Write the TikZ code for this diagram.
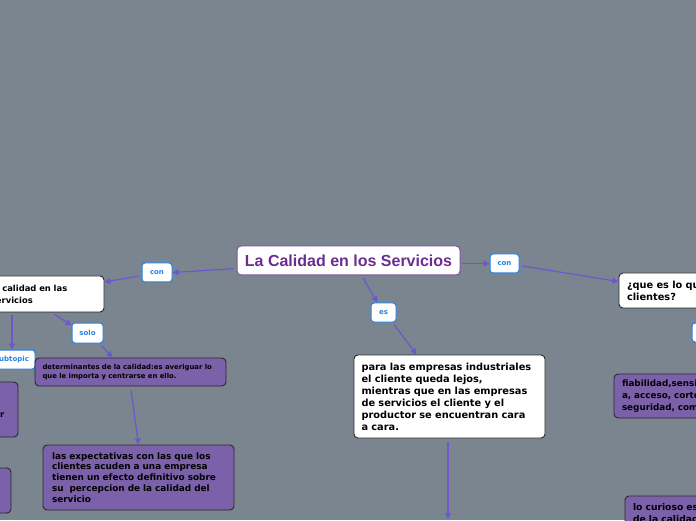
\documentclass[tikz,border=0pt]{standalone}
\usepackage{fontspec}
\setmainfont{DejaVu Sans}
\newfontfamily\ttlfont{Liberation Sans}
\usetikzlibrary{arrows.meta,calc}
\definecolor{bg}{RGB}{122,133,143}
\definecolor{linec}{RGB}{108,88,204}
\definecolor{purp}{RGB}{123,97,170}
\definecolor{dk}{RGB}{40,40,40}
\definecolor{lblue}{RGB}{40,130,230}
\definecolor{ttl}{RGB}{107,45,145}
\definecolor{ttlb}{RGB}{128,80,165}
\newcommand\fsz[2]{\bfseries\fontsize{#1}{#2}\selectfont}
\tikzset{
  conn/.style={draw=linec, line width=1.2pt, -{Triangle[length=6pt,width=6pt]}, shorten <=3pt},
  tbox/.style={draw=ttlb, fill=white, rounded corners=4pt, line width=1pt, text=ttl, inner sep=0pt,
    font=\ttlfont\bfseries\fontsize{16}{18}\selectfont},
  wbox/.style={draw=dk, fill=white, rounded corners=4pt, line width=0.9pt, inner sep=0pt, align=left, text=black},
  pbox/.style={draw=dk, fill=purp, rounded corners=4pt, line width=0.9pt, inner sep=0pt, align=left, text=black},
  lbl/.style={draw=lblue, fill=white, rounded corners=3pt, line width=1pt, text=lblue, inner sep=0pt,
    font=\fsz{7}{8}},
}
\begin{document}
\begin{tikzpicture}[x=1pt,y=1pt]
\clip (0,0) rectangle (696,520);
\fill[bg] (0,0) rectangle (696,520);

% central
\node[tbox, minimum width=223pt, minimum height=29pt] (central) at (348.5,259.5) {La Calidad en los Servicios};

% left branch
\node[lbl, minimum width=30pt, minimum height=19pt] (lcon) at (157,247.5) {con};
\node[wbox, minimum width=120pt, minimum height=36pt, text width=106pt, font=\fsz{8.4}{12}] (leftbox) at (44,226) {la calidad en las\\servicios};
\node[lbl, minimum width=46pt, minimum height=19pt] (sub) at (12,160.5) {subtopic};
\node[lbl, minimum width=31pt, minimum height=20pt] (solo) at (87.5,187) {solo};
\node[pbox, minimum width=191pt, minimum height=28pt, text width=176pt, font=\fsz{6.9}{9}] (determ) at (130.5,148) {determinantes de la calidad:es averiguar lo\\que le importa y centrarse en ello.};
\node[pbox, minimum width=191pt, minimum height=65pt, text width=173pt, font=\fsz{8.9}{10.9}] (expect) at (138.5,42.5) {las expectativas con las que los\\clientes acuden a una empresa\\tienen un efecto definitivo sobre\\su\ \ percepcion de la calidad del\\servicio};
\node[pbox, minimum width=48pt, minimum height=55pt] (lp1) at (-6,110.5) {};
\node[font=\fsz{8.6}{12}, anchor=west, inner sep=0pt] (lp1r) at (0,105) {r};
\node[pbox, minimum width=41pt, minimum height=45pt] (lp2) at (-9.5,29.5) {};

% middle branch
\node[lbl, minimum width=25pt, minimum height=19pt] (es) at (383.5,207.5) {es};
\node[wbox, minimum width=191pt, minimum height=83pt, text width=176pt, font=\fsz{9.8}{12}] (ind) at (449.5,123.5) {para las empresas industriales\\el cliente queda lejos,\\mientras que en las empresas\\de servicios el cliente y el\\productor se encuentran cara\\a cara.};
\coordinate (indbot) at (448,1);

% right branch
\node[lbl, minimum width=29pt, minimum height=19pt] (rcon) at (504.5,256.5) {con};
\node[wbox, minimum width=181pt, minimum height=35pt, text width=165pt, font=\fsz{9.8}{12}] (qbox) at (709.5,229.5) {¿que es lo que esperan los\\clientes?};
\node[lbl, minimum width=48pt, minimum height=19pt] (rsub) at (716,187.5) {};
\node[pbox, minimum width=186pt, minimum height=44pt, text width=170pt, font=\fsz{8.8}{12}] (fiab) at (707,124) {fiabilidad,sensibilidad,competenci\\a, acceso, cortesia,\\seguridad, comunicacion};
\node[pbox, minimum width=175pt, minimum height=34pt, text width=159pt, font=\fsz{9.2}{12}] (cur) at (712.5,7) {lo curioso es que\\de la calidad};

% connectors
\draw[conn] ([yshift=-8pt]central.west) -- (lcon.east);
\draw[conn] ([yshift=-3pt]lcon.west) -- ([yshift=12pt]leftbox.east);
\draw[conn] (sub.north |- leftbox.south) -- (sub.north);
\draw[conn] ([xshift=8pt]leftbox.south) -- ([yshift=-3pt]solo.north west);
\draw[conn] ([xshift=-4pt]solo.south east) -- ($(determ.north west)+(78,0)$);
\draw[conn, shorten <=4pt] (determ.south) -- (expect.north);
\draw[conn] ([xshift=13pt]central.south) -- ([xshift=-6pt]es.north);
\draw[conn] ([xshift=-4pt]es.south east) -- ([xshift=-33pt]ind.north);
\draw[conn, shorten <=4pt] (ind.south -| indbot) -- (indbot);
\draw[conn, shorten <=1pt] (central.east |- rcon.west) -- (rcon.west);
\draw[conn] ([yshift=-2pt]rcon.east) -- ([yshift=-9pt]qbox.north west);
\end{tikzpicture}
\end{document}
